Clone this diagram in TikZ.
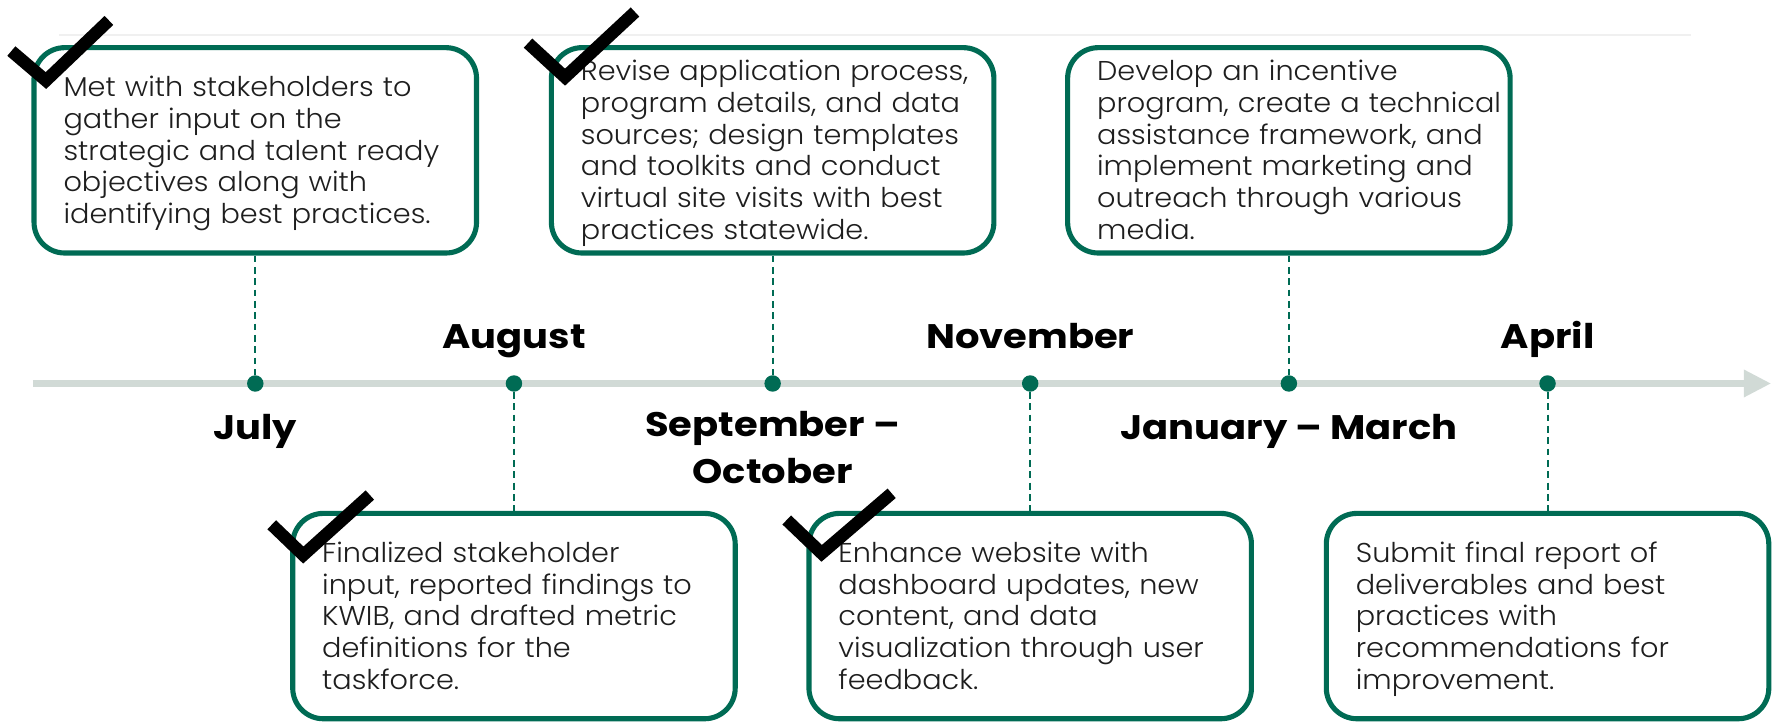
\documentclass[tikz,border=0pt]{standalone}
\usepackage{fontspec}
\setmainfont{Poppins}[UprightFont=* Light, BoldFont=* Bold,
    UprightFeatures={FakeStretch=1.055}, BoldFeatures={FakeStretch=1.13}]
\usepackage{tikz}
\usepackage{xcolor}
\usetikzlibrary{
    arrows.meta,
    positioning
}
\definecolor{kgreen}{HTML}{006B54}
\definecolor{kline}{HTML}{D1DAD6}
\definecolor{ktext}{HTML}{1E1E1E}
\newcommand{\boxlines}[1]{\begin{tabular}{@{}l@{}}#1\\[-6pt]\end{tabular}}
\tikzset{tbox/.style={draw=kgreen, line width=4.5pt, rounded corners=27pt, fill=white,
    minimum width=390pt, minimum height=181pt, inner xsep=26pt, text width=338pt,
    align=left, text=ktext, font=\fontsize{24}{28}\selectfont}}
\tikzset{tdot/.style={circle, fill=kgreen, inner sep=0pt, minimum size=14.5pt}}
\tikzset{tmonth/.style={font=\bfseries\fontsize{30}{41}\selectfont, align=center, inner sep=0pt}}
\tikzset{tstem/.style={draw=kgreen, line width=1.8pt, dash pattern=on 6pt off 4pt}}
\tikzset{tick/.style={draw=black, line width=11pt}}

\begin{document}
\begin{tikzpicture}[x=1pt, y=-1pt]
    \useasboundingbox (0, 0) rectangle (1568, 637);

    \draw[draw=black!6, line width=1.5pt] (52, 31) -- (1490, 31);

    \coordinate (t0) at (29, 338);
    \coordinate (t1) at (1561, 338);
    \draw[draw=kline, line width=5.5pt, -{Triangle[width=23pt, length=24pt]}] (t0) -- (t1);

    \node[tdot] (d1) at (225, 338) {};
    \node[tdot] (d2) at (453, 338) {};
    \node[tdot] (d3) at (681, 338) {};
    \node[tdot] (d4) at (908, 338) {};
    \node[tdot] (d5) at (1136, 338) {};
    \node[tdot] (d6) at (1364, 338) {};

    \node[tbox] (b1) at (225, 132.5) {\boxlines{Met with stakeholders to\\gather input on the\\strategic and talent ready\\objectives along with\\identifying best practices.}};
    \node[tbox] (b3) at (681, 132.5) {\boxlines{Revise application process,\\program details, and data\\sources; design templates\\and toolkits and conduct\\virtual site visits with best\\practices statewide.}};
    \node[tbox] (b5) at (1136, 132.5) {\boxlines{Develop an incentive\\program, create a technical\\assistance framework, and\\implement marketing and\\outreach through various\\media.}};

    \node[tbox] (b2) at (453, 543) {\boxlines{Finalized stakeholder\\input, reported findings to\\KWIB, and drafted metric\\definitions for the\\taskforce.}};
    \node[tbox] (b4) at (908, 543) {\boxlines{Enhance website with\\dashboard updates, new\\content, and data\\visualization through user\\feedback.}};
    \node[tbox] (b6) at (1364, 543) {\boxlines{Submit final report of\\deliverables and best\\practices with\\recommendations for\\improvement.}};

    \draw[tstem] (b1.south) -- (d1);
    \draw[tstem] (b3.south) -- (d3);
    \draw[tstem] (b5.south) -- (d5);
    \draw[tstem] (d2) -- (b2.north);
    \draw[tstem] (d4) -- (b4.north);
    \draw[tstem] (d6) -- (b6.north);

    \node[tmonth, anchor=base] (m1) at (225, 387) {July};
    \node[tmonth, anchor=base] (m2) at (453, 307) {August};
    \node[tmonth, anchor=base] (m3) at (681, 426) {September --\\October};
    \node[tmonth, anchor=base] (m4) at (908, 307) {November};
    \node[tmonth, anchor=base] (m5) at (1136, 387) {January -- March};
    \node[tmonth, anchor=base] (m6) at (1364, 307) {April};

    \draw[tick] (10, 45) -- (40.5, 71) -- (96, 18);
    \draw[tick] (239.5, 462.5) -- (267.3, 489.2) -- (326, 436.3);
    \draw[tick] (465.4, 38) -- (498, 68) -- (559.7, 10.6);
    \draw[tick] (693.4, 458.3) -- (724.2, 487.7) -- (785.9, 434.8);
\end{tikzpicture}
\end{document}
